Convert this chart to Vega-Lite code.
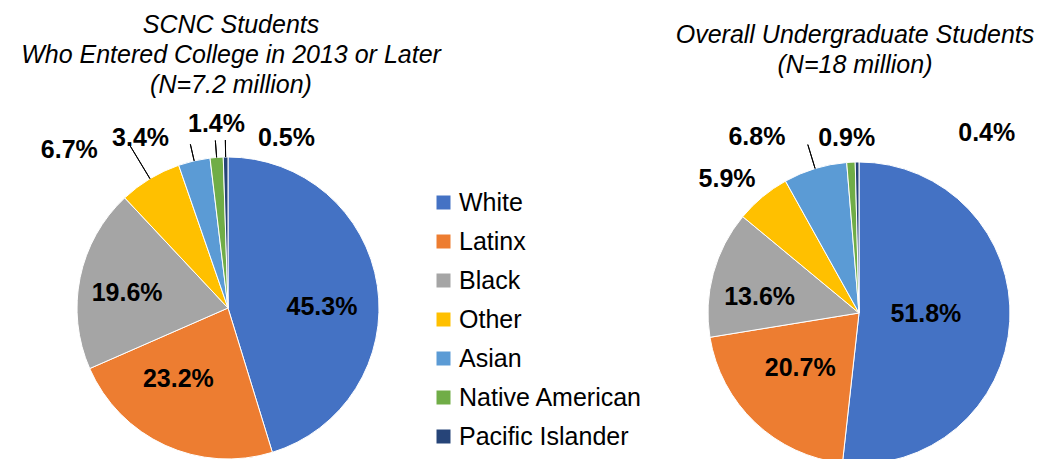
{
  "$schema": "https://vega.github.io/schema/vega-lite/v6.json",
  "padding": {"top": 13, "left": 0, "right": 0, "bottom": 0},
  "background": "white",
  "config": {
    "view": {"stroke": null},
    "font": "Liberation Sans",
    "title": {"font": "Liberation Sans", "fontSize": 25, "fontStyle": "italic", "fontWeight": "normal", "color": "black", "lineHeight": 30, "anchor": "middle", "offset": 0, "baseline": "top"},
    "text": {"font": "Liberation Sans", "fontSize": 25, "fontWeight": "bold", "fill": "black", "align": "center", "baseline": "middle"}
  },
  "datasets": {
    "scnc": [
      {"group": "White", "pct": 0.453, "k": 1},
      {"group": "Latinx", "pct": 0.232, "k": 2},
      {"group": "Black", "pct": 0.196, "k": 3},
      {"group": "Other", "pct": 0.067, "k": 4},
      {"group": "Asian", "pct": 0.034, "k": 5},
      {"group": "Native American", "pct": 0.014, "k": 6},
      {"group": "Pacific Islander", "pct": 0.005, "k": 7}
    ],
    "overall": [
      {"group": "White", "pct": 0.518, "k": 1},
      {"group": "Latinx", "pct": 0.207, "k": 2},
      {"group": "Black", "pct": 0.136, "k": 3},
      {"group": "Other", "pct": 0.059, "k": 4},
      {"group": "Asian", "pct": 0.068, "k": 5},
      {"group": "Native American", "pct": 0.009, "k": 6},
      {"group": "Pacific Islander", "pct": 0.004, "k": 7}
    ]
  },
  "spacing": 213,
  "resolve": {"scale": {"color": "shared", "theta": "independent"}},
  "hconcat": [
    {
      "title": {"text": ["SCNC Students", "Who Entered College in 2013 or Later", "(N=7.2 million)"], "dx": 3},
      "width": 456,
      "height": 412,
      "data": {"name": "scnc"},
      "encoding": {
        "theta": {"field": "pct", "type": "quantitative", "stack": true},
        "order": {"field": "k", "type": "quantitative"}
      },
      "layer": [
        {
          "mark": {"type": "arc", "outerRadius": 151, "stroke": "white", "strokeWidth": 1},
          "encoding": {
            "color": {
              "field": "group", "type": "nominal",
              "sort": ["White", "Latinx", "Black", "Other", "Asian", "Native American", "Pacific Islander"],
              "scale": {"domain": ["White", "Latinx", "Black", "Other", "Asian", "Native American", "Pacific Islander"], "range": ["#4472C4", "#ED7D31", "#A5A5A5", "#FFC000", "#5B9BD5", "#70AD47", "#264478"]},
              "legend": {"orient": "none", "legendX": 431, "legendY": 88, "title": null, "symbolType": "square", "symbolSize": 196, "symbolStrokeWidth": 0, "labelFontSize": 25, "labelFont": "Liberation Sans", "labelColor": "black", "labelLimit": 400, "rowPadding": 13, "labelOffset": 3, "padding": 0}
            }
          }
        },
        {"mark": {"type": "arc", "innerRadius": 151, "outerRadius": 190, "padAngle": 1.2, "fill": null, "stroke": "black", "strokeWidth": 1}, "encoding": {"detail": {"field": "group"}, "strokeOpacity": {"condition": {"test": "datum.group === 'Other'", "value": 1}, "value": 0}}},
        {"mark": {"type": "arc", "innerRadius": 151, "outerRadius": 168, "padAngle": 1.2, "fill": null, "stroke": "black", "strokeWidth": 1}, "encoding": {"detail": {"field": "group"}, "strokeOpacity": {"condition": {"test": "datum.group === 'Asian' || datum.group === 'Native American' || datum.group === 'Pacific Islander'", "value": 1}, "value": 0}}},
        {"mark": {"type": "text", "radius": 94, "dx": 1, "dy": 13}, "encoding": {"detail": {"field": "group"}, "text": {"condition": {"test": "datum.group === 'White'", "field": "pct", "type": "quantitative", "format": ".1%"}, "value": ""}}},
        {"mark": {"type": "text", "radius": 88, "dx": -13, "dy": -9}, "encoding": {"detail": {"field": "group"}, "text": {"condition": {"test": "datum.group === 'Latinx'", "field": "pct", "type": "quantitative", "format": ".1%"}, "value": ""}}},
        {"mark": {"type": "text", "radius": 102, "dx": -1, "dy": 6}, "encoding": {"detail": {"field": "group"}, "text": {"condition": {"test": "datum.group === 'Black'", "field": "pct", "type": "quantitative", "format": ".1%"}, "value": ""}}},
        {"mark": {"type": "text", "radius": 100, "dx": -107, "dy": -72}, "encoding": {"detail": {"field": "group"}, "text": {"condition": {"test": "datum.group === 'Other'", "field": "pct", "type": "quantitative", "format": ".1%"}, "value": ""}}},
        {"mark": {"type": "text", "radius": 100, "dx": -65, "dy": -73}, "encoding": {"detail": {"field": "group"}, "text": {"condition": {"test": "datum.group === 'Asian'", "field": "pct", "type": "quantitative", "format": ".1%"}, "value": ""}}},
        {"mark": {"type": "text", "radius": 100, "dx": -4, "dy": -84}, "encoding": {"detail": {"field": "group"}, "text": {"condition": {"test": "datum.group === 'Native American'", "field": "pct", "type": "quantitative", "format": ".1%"}, "value": ""}}},
        {"mark": {"type": "text", "radius": 100, "dx": 60, "dy": -70}, "encoding": {"detail": {"field": "group"}, "text": {"condition": {"test": "datum.group === 'Pacific Islander'", "field": "pct", "type": "quantitative", "format": ".1%"}, "value": ""}}}
      ]
    },
    {
      "title": {"text": ["Overall Undergraduate Students", "(N=18 million)"], "offset": 24, "dx": -4},
      "width": 380,
      "height": 422,
      "data": {"name": "overall"},
      "encoding": {
        "theta": {"field": "pct", "type": "quantitative", "stack": true},
        "order": {"field": "k", "type": "quantitative"}
      },
      "layer": [
        {
          "mark": {"type": "arc", "outerRadius": 151, "stroke": "white", "strokeWidth": 1},
          "encoding": {
            "color": {"field": "group", "type": "nominal", "sort": ["White", "Latinx", "Black", "Other", "Asian", "Native American", "Pacific Islander"]}
          }
        },
        {"mark": {"type": "arc", "innerRadius": 151, "outerRadius": 176, "padAngle": 1.2, "fill": null, "stroke": "black", "strokeWidth": 1}, "encoding": {"detail": {"field": "group"}, "strokeOpacity": {"condition": {"test": "datum.group === 'Asian'", "value": 1}, "value": 0}}},
        {"mark": {"type": "text", "radius": 67, "dx": 0, "dy": -3}, "encoding": {"detail": {"field": "group"}, "text": {"condition": {"test": "datum.group === 'White'", "field": "pct", "type": "quantitative", "format": ".1%"}, "value": ""}}},
        {"mark": {"type": "text", "radius": 81, "dx": -3, "dy": -4}, "encoding": {"detail": {"field": "group"}, "text": {"condition": {"test": "datum.group === 'Latinx'", "field": "pct", "type": "quantitative", "format": ".1%"}, "value": ""}}},
        {"mark": {"type": "text", "radius": 102, "dx": -1, "dy": 11}, "encoding": {"detail": {"field": "group"}, "text": {"condition": {"test": "datum.group === 'Black'", "field": "pct", "type": "quantitative", "format": ".1%"}, "value": ""}}},
        {"mark": {"type": "text", "radius": 100, "dx": -68, "dy": -57}, "encoding": {"detail": {"field": "group"}, "text": {"condition": {"test": "datum.group === 'Other'", "field": "pct", "type": "quantitative", "format": ".1%"}, "value": ""}}},
        {"mark": {"type": "text", "radius": 100, "dx": -73, "dy": -80}, "encoding": {"detail": {"field": "group"}, "text": {"condition": {"test": "datum.group === 'Asian'", "field": "pct", "type": "quantitative", "format": ".1%"}, "value": ""}}},
        {"mark": {"type": "text", "radius": 100, "dx": -7, "dy": -75}, "encoding": {"detail": {"field": "group"}, "text": {"condition": {"test": "datum.group === 'Native American'", "field": "pct", "type": "quantitative", "format": ".1%"}, "value": ""}}},
        {"mark": {"type": "text", "radius": 100, "dx": 129, "dy": -80}, "encoding": {"detail": {"field": "group"}, "text": {"condition": {"test": "datum.group === 'Pacific Islander'", "field": "pct", "type": "quantitative", "format": ".1%"}, "value": ""}}}
      ]
    }
  ]
}
